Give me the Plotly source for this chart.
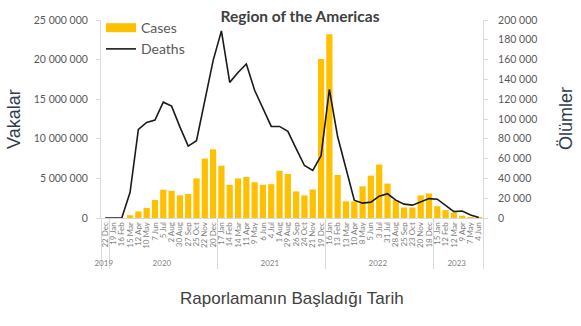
import plotly.graph_objects as go

# ---- data ----
dates_2019 = ["22 Dec"]
dates_2020 = ["19 Jan", "16 Feb", "15 Mar", "12 Apr", "10 May", "7 Jun", "5 Jul",
              "2 Aug", "30 Aug", "27 Sep", "25 Oct", "22 Nov", "20 Dec"]
dates_2021 = ["17 Jan", "14 Feb", "14 Mar", "11 Apr", "9 May", "6 Jun", "4 Jul",
              "1 Aug", "29 Aug", "26 Sep", "24 Oct", "21 Nov", "19 Dec"]
dates_2022 = ["16 Jan", "13 Feb", "13 Mar", "10 Apr", "8 May", "5 Jun", "3 Jul",
              "31 Jul", "28 Aug", "25 Sep", "23 Oct", "20 Nov", "18 Dec"]
dates_2023 = ["15 Jan", "12 Feb", "12 Mar", "9 Apr", "7 May", "4 Jun"]

year_labels = ["2019", "2020", "2021", "2022", "2023"]
date_groups = [dates_2019, dates_2020, dates_2021, dates_2022, dates_2023]

cases = [0, 0, 0, 350000, 830000, 1280000, 2280000, 3570000, 3440000, 2860000,
         3030000, 5000000, 7500000, 8670000, 6600000, 4190000, 5000000, 5180000,
         4520000, 4190000, 4270000, 5970000, 5560000, 3360000, 2860000, 3600000,
         20060000, 23200000, 5430000, 2110000, 2100000, 4000000, 5350000, 6750000,
         4350000, 2280000, 1330000, 1330000, 2860000, 3100000, 1490000, 1000000,
         660000, 290000, 100000, 50000]

deaths = [0, 0, 0, 26000, 89500, 96500, 99000, 117000, 113000, 92000,
          72600, 78000, 117000, 159000, 189000, 137000, 147000, 155500,
          129000, 111000, 92500, 92500, 87500, 70000, 53000, 48000,
          63000, 130000, 82000, 50000, 18000, 15000, 16000, 22000,
          24500, 18000, 14000, 13000, 16500, 19600, 19000, 13000,
          6500, 7000, 3000, 500]

# ---- build multicategory x ----
x_years, x_dates = [], []
for yl, grp in zip(year_labels, date_groups):
    for d in grp:
        x_years.append(yl)
        x_dates.append(d)

bar_col = "#FFC000"
fig = go.Figure()
fig.add_trace(go.Bar(x=[x_years, x_dates], y=cases, name="Cases", showlegend=False,
                     marker=dict(color=bar_col, line=dict(width=0)), yaxis="y"))
# legend swatch for cases (wide rectangle like the original)
fig.add_trace(go.Scatter(x=[[x_years[0]], [x_dates[0]]], y=[None], name="Cases",
                         mode="lines", line=dict(color=bar_col, width=9), yaxis="y"))
fig.add_trace(go.Scatter(x=[x_years, x_dates], y=deaths, name="Deaths", mode="lines",
                         line=dict(color="#1a1a1a", width=1.6), yaxis="y2"))

axis_gray = "#d9d9d9"
tick_col = "#595959"
font_fam = "Lato, Open Sans, sans-serif"

fig.update_layout(
    width=581, height=326, autosize=False,
    margin=dict(l=101, r=98, t=17, b=108),
    paper_bgcolor="white", plot_bgcolor="white",
    separators=", ",
    bargap=0.25,
    font=dict(family=font_fam, color=tick_col),
    showlegend=True,
    legend=dict(x=0.0, y=1.04, xanchor="left", yanchor="top",
                bgcolor="rgba(0,0,0,0)", font=dict(size=14, color=tick_col),
                tracegroupgap=0, itemwidth=30),
    title=dict(text="<b>Region of the Americas</b>", x=300 / 581, xref="container",
               y=1 - 17 / 326, yref="container", xanchor="center", yanchor="middle",
               font=dict(size=15.5, color="#404040", family=font_fam)),
    xaxis=dict(type="multicategory", tickangle=-90,
               tickmode="linear", tick0=0, dtick=1,
               tickfont=dict(size=8, color="#7f7f7f"),
               showline=True, linecolor=axis_gray, linewidth=1,
               showdividers=True, dividercolor=axis_gray, dividerwidth=1,
               showgrid=False, ticks=""),
    yaxis=dict(range=[0, 25000000], dtick=5000000, tickformat=",d",
               showline=True, linecolor=axis_gray, ticks="outside", ticklen=4,
               tickcolor=axis_gray, showgrid=False, zeroline=False,
               ticklabelstandoff=6,
               tickfont=dict(size=10.5, color=tick_col)),
    yaxis2=dict(range=[0, 200000], dtick=20000, tickformat=",d",
                overlaying="y", side="right",
                showline=True, linecolor=axis_gray, ticks="outside", ticklen=4,
                tickcolor=axis_gray, showgrid=False, zeroline=False,
                ticklabelstandoff=8,
                tickfont=dict(size=10.5, color=tick_col)),
    annotations=[
        dict(text="Vakalar", x=(14 - 101) / 382, xref="paper", xanchor="center",
             y=0.5, yref="paper", yanchor="middle", textangle=-90,
             showarrow=False, font=dict(size=18, color="#2F3B4C", family="Liberation Sans, Arial")),
        dict(text="Raporlamanın Başladığı Tarih", x=0.5, xref="paper", xanchor="center",
             y=-0.408, yref="paper", yanchor="middle", showarrow=False,
             font=dict(size=17, color="#404040", family="Liberation Sans, Arial")),
        dict(text="Ölümler", x=(566 - 101) / 382, xref="paper", xanchor="center",
             y=0.5, yref="paper", yanchor="middle", textangle=-90,
             showarrow=False, font=dict(size=18, color="#2F3B4C", family="Liberation Sans, Arial")),
    ],
)

fig.write_html("out.html")
